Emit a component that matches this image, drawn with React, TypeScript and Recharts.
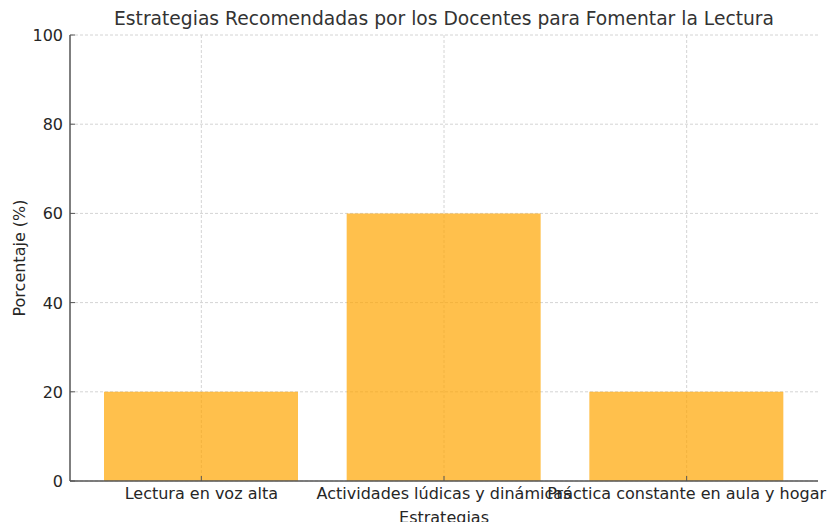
import React from 'react'
import { Bar, BarChart, CartesianGrid, XAxis, YAxis } from 'recharts'

const strategies = ['Lectura en voz alta', 'Actividades lúdicas y dinámicas', 'Práctica constante en aula y hogar']
const percentages = [20, 60, 20]
const yTicks = [0, 20, 40, 60, 80, 100]

const data = strategies.map((name, i) => ({ name, value: percentages[i] }))

const FONT = '"DejaVu Sans", sans-serif'
const TEXT = '#262626'
const AXIS = '#555555'

const YTick = ({ x, y, payload }: any) => (
  <g>
    <line x1={x + 7} x2={x + 12} y1={y} y2={y} stroke={AXIS} strokeWidth={1} />
    <text x={x} y={y} dy={6} textAnchor='end' fontSize={16} fill={TEXT} fontFamily={FONT}>{payload.value}</text>
  </g>
)

const XTick = ({ x, y, payload }: any) => (
  <g>
    <line x1={x} x2={x} y1={y - 5} y2={y - 10} stroke={AXIS} strokeWidth={1} />
    <text x={x} y={y} dy={13} textAnchor='middle' fontSize={16} fill={TEXT} fontFamily={FONT}>{payload.value}</text>
  </g>
)

export default function App() {
  return (
    <div style={{ position: 'relative', width: 828, height: 522, background: '#fff', fontFamily: FONT }}>
      <style>{'body{margin:0}'}</style>
      <div style={{ position: 'absolute', top: 8, left: 70, width: 748, textAlign: 'center', fontSize: 18.7, color: '#333333' }}>
        Estrategias Recomendadas por los Docentes para Fomentar la Lectura
      </div>
      <BarChart width={828} height={522} data={data} margin={{ top: 35, right: 10, bottom: 0, left: 10 }}>
        <CartesianGrid stroke='#d4d4d4' strokeDasharray='3 2' syncWithTicks />
        <XAxis
          dataKey='name'
          padding={{ left: 10, right: 10 }}
          height={41}
          tickSize={0}
          tickMargin={5}
          tickLine={false}
          stroke={AXIS}
          strokeWidth={1.5}
          tick={<XTick />}
          interval={0}
          label={{ value: 'Estrategias', position: 'insideBottom', offset: -1, fontSize: 16, fill: TEXT, fontFamily: FONT }}
        />
        <YAxis
          domain={[0, 100]}
          ticks={yTicks}
          width={60}
          tickSize={0}
          tickMargin={7}
          tickLine={false}
          stroke={AXIS}
          strokeWidth={1.5}
          tick={<YTick />}
          label={{ value: 'Porcentaje (%)', angle: -90, position: 'insideLeft', offset: 9, fontSize: 16, fill: TEXT, fontFamily: FONT, style: { textAnchor: 'middle' } }}
        />
        <Bar dataKey='value' fill='#FFA500' fillOpacity={0.7} barSize={194} isAnimationActive={false} />
      </BarChart>
    </div>
  )
}
